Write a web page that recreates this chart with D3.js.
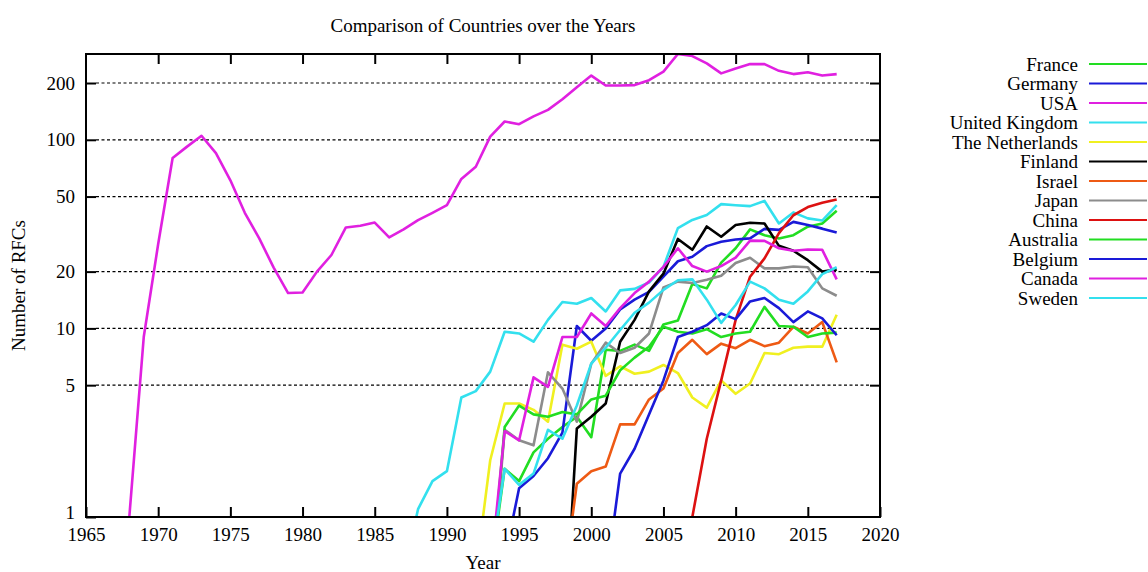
<!DOCTYPE html>
<html><head><meta charset="utf-8">
<script src="https://cdn.jsdelivr.net/npm/d3@7/dist/d3.min.js"></script>
<style>
body{margin:0;background:#fff}
text{font-family:"Liberation Serif","Times New Roman",serif;fill:#000}
</style>
</head><body>
<svg id="chart" width="1148" height="572"></svg>
<script>
// ---- data (first element of some series is the lead-in point below the axis) ----
const countries = ["France","Germany","USA","United Kingdom","The Netherlands","Finland","Israel","Japan","China","Australia","Belgium","Canada","Sweden"];
const colors = ["#22dd22","#1a1ad8","#e020e0","#33e0ee","#f0f020","#000000","#ee5a14","#8c8c8c","#dd1111","#22dd22","#1a1ad8","#e020e0","#33e0ee"];
const startYears = [1993,1994,1968,1987,1992,1998,1998,1993,2007,1993,2001,1993,1993];

const france = [0.5,1.8,1.55,2.2,2.6,3.0,3.4,2.65,7.7,7.6,8.2,7.6,10.5,11.0,17.2,16.3,22.3,26.6,33.5,31.2,30.0,31.2,34.6,36.0,42.0];
const germany = [0.6,1.42,1.65,2.05,2.8,10.3,8.6,10.0,12.6,14.2,15.6,18.8,22.7,24.0,27.3,28.8,29.6,30.0,33.7,33.3,36.7,35.3,33.8,32.2];
const usa = [1,9,28,80,92,105,85,61,41,30,21,15.4,15.5,20,24.5,34.3,35,36.4,30.4,33.5,37.5,41,45,62,72,104,125,121,133,144,164,190,219,194,194,195,207,230,285,278,254,225,239,252,252,232,223,228,219,223];
const unitedKingdom = [0.5,1.1,1.55,1.75,4.3,4.65,5.9,9.6,9.4,8.5,11.1,13.8,13.5,14.5,12.3,15.9,16.2,17.5,21.2,34,37.6,39.9,45.6,45,44.5,47.4,36,41.2,38.3,37.3,45];
const netherlands = [0.5,2.0,4.0,4.0,3.7,3.2,8.2,7.8,8.5,5.6,6.3,5.75,5.9,6.4,5.8,4.3,3.8,5.3,4.5,5.1,7.4,7.3,7.9,8.0,8.0,11.8];
const finland = [0.15,2.95,3.4,4.0,8.5,11.1,15.7,19.5,29.8,26.1,34.7,30.6,35.3,36.3,36,27.4,25.8,23,20,20.5];
const israel = [0.4,1.5,1.75,1.85,3.1,3.1,4.2,4.8,7.4,8.7,7.3,8.3,7.85,8.7,8.05,8.4,10.2,9.4,10.8,6.6];
const japan = [0.35,2.9,2.55,2.4,5.85,4.8,3.2,6.5,8.4,7.4,7.9,9.4,16.5,17.7,17.4,18.1,19.0,22.2,23.7,20.8,20.8,21.3,21.1,16.3,14.9];
const china = [1,2.6,5.3,11.1,18.8,23.5,32,39.8,44,46.4,48.3];
const australia = [0.4,3.0,3.9,3.5,3.4,3.6,3.5,4.2,4.4,6.0,7.0,8.0,10.2,9.6,9.4,9.9,9.0,9.4,9.6,13.0,10.3,10.2,9.0,9.4,9.5];
const belgium = [0.45,1.7,2.3,3.5,5.3,9.0,9.6,10.4,12.0,11.2,13.9,14.5,12.8,10.8,12.3,11.3,9.2];
const canada = [0.5,2.85,2.55,5.5,4.9,9.0,9.0,12,10.3,12.8,15.4,17.7,21.2,26.6,21.4,20.0,21.4,23.7,29.2,29.1,26.6,25.8,26.2,26.1,18.2];
const sweden = [0.56,1.8,1.48,1.7,2.9,2.6,3.9,6.5,7.9,9.8,12.1,13.7,16.0,18.0,18.2,14.2,10.7,13.3,17.7,16.3,14.2,13.5,15.7,19.4,21.1];

const seriesValues = [france,germany,usa,unitedKingdom,netherlands,finland,israel,japan,china,australia,belgium,canada,sweden];

const xTicks = [1965,1970,1975,1980,1985,1990,1995,2000,2005,2010,2015,2020];
const yTicks = [1,5,10,20,50,100,200];
const yGrid = [5,10,20,50,100,200];

const titleText = "Comparison of Countries over the Years";
const xLabel = "Year";
const yLabel = "Number of RFCs";

// ---- layout ----
const FS = 19;
const L = 86, R = 880, T = 54, B = 517;
const svg = d3.select("#chart");
const x = d3.scaleLinear().domain([1965, 2020]).range([L, R]);
const y = d3.scaleLog().domain([1, 285]).range([B, T]);

svg.append("defs").append("clipPath").attr("id","clip")
  .append("rect").attr("x",L).attr("y",T).attr("width",R-L).attr("height",B-T);

// grid
svg.append("g").selectAll("line").data(yGrid).join("line")
  .attr("x1",L+10).attr("x2",R-10)
  .attr("y1",d=>y(d)).attr("y2",d=>y(d))
  .attr("stroke","#000").attr("stroke-width",1.2)
  .attr("stroke-dasharray","3,2.5");

// axes
const gB = svg.append("g").attr("transform",`translate(0,${B})`)
  .call(d3.axisBottom(x).tickValues(xTicks).tickFormat(d3.format("d")).tickSize(-10).tickPadding(11));
const gT = svg.append("g").attr("transform",`translate(0,${T})`)
  .call(d3.axisTop(x).tickValues(xTicks.slice(1,-1)).tickFormat("").tickSize(-10));
const gL = svg.append("g").attr("transform",`translate(${L},0)`)
  .call(d3.axisLeft(y).tickValues(yTicks).tickFormat(d3.format("d")).tickSize(-10).tickPadding(11));
const gR = svg.append("g").attr("transform",`translate(${R},0)`)
  .call(d3.axisRight(y).tickValues(yTicks.slice(1)).tickFormat("").tickSize(-10));
[gB,gT,gL,gR].forEach(g=>{
  g.select(".domain").remove();
  g.selectAll(".tick line").attr("stroke","#000").attr("stroke-width",2);
  g.selectAll(".tick text").attr("font-size",FS).attr("font-family","Liberation Serif, Times New Roman, serif");
});
// lift the "1" label slightly so it clears the year labels below
gL.selectAll(".tick text").filter(d=>d===1).attr("dy","0.1em");

// series lines
const line = d3.line().x(d=>x(d.year)).y(d=>y(d.v));
const gLines = svg.append("g").attr("clip-path","url(#clip)");
seriesValues.forEach((vals,i)=>{
  const pts = vals.map((v,k)=>({year:startYears[i]+k, v:v}));
  gLines.append("path").datum(pts)
    .attr("d",line).attr("fill","none")
    .attr("stroke",colors[i]).attr("stroke-width",2.6)
    .attr("stroke-linejoin","round");
});

// border
svg.append("rect").attr("x",L).attr("y",T).attr("width",R-L).attr("height",B-T)
  .attr("fill","none").attr("stroke","#000").attr("stroke-width",2);

// titles
svg.append("text").attr("x",(L+R)/2).attr("y",32).attr("text-anchor","middle")
  .attr("font-size",FS).text(titleText);
svg.append("text").attr("x",(L+R)/2).attr("y",569).attr("text-anchor","middle")
  .attr("font-size",FS).text(xLabel);
svg.append("text").attr("transform",`translate(25,${(T+B)/2}) rotate(-90)`)
  .attr("text-anchor","middle").attr("font-size",FS).text(yLabel);

// legend
const lg = svg.append("g");
countries.forEach((c,i)=>{
  const yy = 64 + i*19.5;
  lg.append("text").attr("x",1078).attr("y",yy).attr("dy","0.35em")
    .attr("text-anchor","end").attr("font-size",FS).text(c);
  lg.append("line").attr("x1",1089).attr("x2",1147).attr("y1",yy).attr("y2",yy)
    .attr("stroke",colors[i]).attr("stroke-width",2.2);
});
</script>
</body></html>
